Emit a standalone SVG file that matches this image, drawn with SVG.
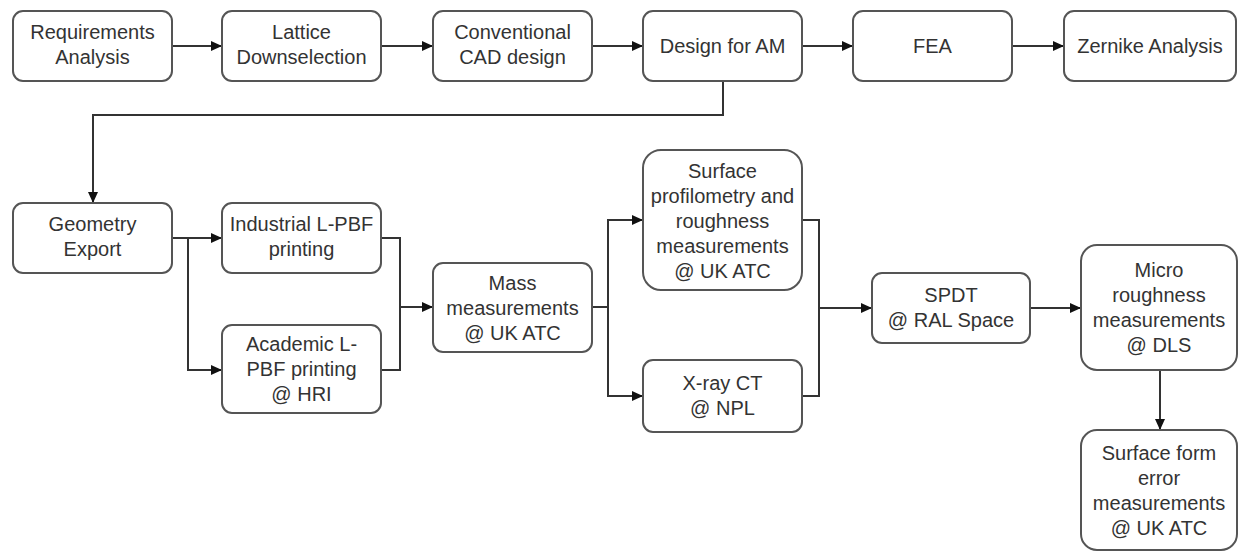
<svg xmlns="http://www.w3.org/2000/svg" width="1239" height="552" viewBox="0 0 1239 552">
<style>
.box{fill:#fff;stroke:#555;stroke-width:2}
.t{font-family:"Liberation Sans",Arial,sans-serif;font-size:20px;fill:#333;text-anchor:middle}
.c{fill:none;stroke:#333;stroke-width:2}
</style>
<defs>
<marker id="ah" viewBox="0 0 11 10" refX="11" refY="5" markerWidth="11" markerHeight="10" markerUnits="userSpaceOnUse" orient="auto">
<path d="M0,0 L11,5 L0,10 Z" fill="#111"/>
</marker>
</defs>
<rect width="1239" height="552" fill="#fff"/>
<g id="connectors">
<path class="c" d="M172,46 H222" marker-end="url(#ah)"/>
<path class="c" d="M381,46 H433" marker-end="url(#ah)"/>
<path class="c" d="M592,46 H643" marker-end="url(#ah)"/>
<path class="c" d="M802,46 H853" marker-end="url(#ah)"/>
<path class="c" d="M1012,46 H1064" marker-end="url(#ah)"/>
<path class="c" d="M723,81 V115 H93 V203" marker-end="url(#ah)"/>
<path class="c" d="M172,238 H222" marker-end="url(#ah)"/>
<path class="c" d="M188,238 V370 H222" marker-end="url(#ah)"/>
<path class="c" d="M381,238 H400 V370 H381"/>
<path class="c" d="M400,307 H433" marker-end="url(#ah)"/>
<path class="c" d="M592,307 H608 V220 H643" marker-end="url(#ah)"/>
<path class="c" d="M608,307 V396 H643" marker-end="url(#ah)"/>
<path class="c" d="M802,220 H819 V396 H802"/>
<path class="c" d="M819,308 H872" marker-end="url(#ah)"/>
<path class="c" d="M1030,308 H1081" marker-end="url(#ah)"/>
<path class="c" d="M1160,370 V430" marker-end="url(#ah)"/>
</g>
<g id="n-req"><rect class="box" x="13" y="11" width="159" height="70" rx="10"/><text class="t" x="92.5" y="39">Requirements</text><text class="t" x="92.5" y="64">Analysis</text></g>
<g id="n-lattice"><rect class="box" x="222" y="11" width="159" height="70" rx="10"/><text class="t" x="301.5" y="39">Lattice</text><text class="t" x="301.5" y="64">Downselection</text></g>
<g id="n-cad"><rect class="box" x="433" y="11" width="159" height="70" rx="10"/><text class="t" x="512.5" y="39">Conventional</text><text class="t" x="512.5" y="64">CAD design</text></g>
<g id="n-dfam"><rect class="box" x="643" y="11" width="159" height="70" rx="10"/><text class="t" x="722.5" y="53">Design for AM</text></g>
<g id="n-fea"><rect class="box" x="853" y="11" width="159" height="70" rx="10"/><text class="t" x="932.5" y="53">FEA</text></g>
<g id="n-zernike"><rect class="box" x="1064" y="11" width="172" height="70" rx="10"/><text class="t" x="1150" y="53">Zernike Analysis</text></g>
<g id="n-geom"><rect class="box" x="13" y="203" width="159" height="70" rx="10"/><text class="t" x="92.5" y="231">Geometry</text><text class="t" x="92.5" y="256">Export</text></g>
<g id="n-ind"><rect class="box" x="222" y="203" width="159" height="70" rx="10"/><text class="t" x="301.5" y="231">Industrial L-PBF</text><text class="t" x="301.5" y="256">printing</text></g>
<g id="n-acad"><rect class="box" x="222" y="325" width="159" height="88" rx="10"/><text class="t" x="301.5" y="351">Academic L-</text><text class="t" x="301.5" y="376">PBF printing</text><text class="t" x="301.5" y="401">@ HRI</text></g>
<g id="n-mass"><rect class="box" x="433" y="263" width="159" height="89" rx="10"/><text class="t" x="512.5" y="290">Mass</text><text class="t" x="512.5" y="315">measurements</text><text class="t" x="512.5" y="340">@ UK ATC</text></g>
<g id="n-surf"><rect class="box" x="643" y="150" width="159" height="140" rx="18"/><text class="t" x="722.5" y="178">Surface</text><text class="t" x="722.5" y="203">profilometry and</text><text class="t" x="722.5" y="228">roughness</text><text class="t" x="722.5" y="253">measurements</text><text class="t" x="722.5" y="278">@ UK ATC</text></g>
<g id="n-xray"><rect class="box" x="643" y="360" width="159" height="72" rx="10"/><text class="t" x="722.5" y="390">X-ray CT</text><text class="t" x="722.5" y="415">@ NPL</text></g>
<g id="n-spdt"><rect class="box" x="872" y="273" width="158" height="70" rx="10"/><text class="t" x="951" y="302">SPDT</text><text class="t" x="951" y="327">@ RAL Space</text></g>
<g id="n-micro"><rect class="box" x="1081" y="245" width="156" height="125" rx="16"/><text class="t" x="1159" y="277">Micro</text><text class="t" x="1159" y="302">roughness</text><text class="t" x="1159" y="327">measurements</text><text class="t" x="1159" y="352">@ DLS</text></g>
<g id="n-form"><rect class="box" x="1081" y="430" width="156" height="120" rx="16"/><text class="t" x="1159" y="460">Surface form</text><text class="t" x="1159" y="485">error</text><text class="t" x="1159" y="510">measurements</text><text class="t" x="1159" y="535">@ UK ATC</text></g>
</svg>
